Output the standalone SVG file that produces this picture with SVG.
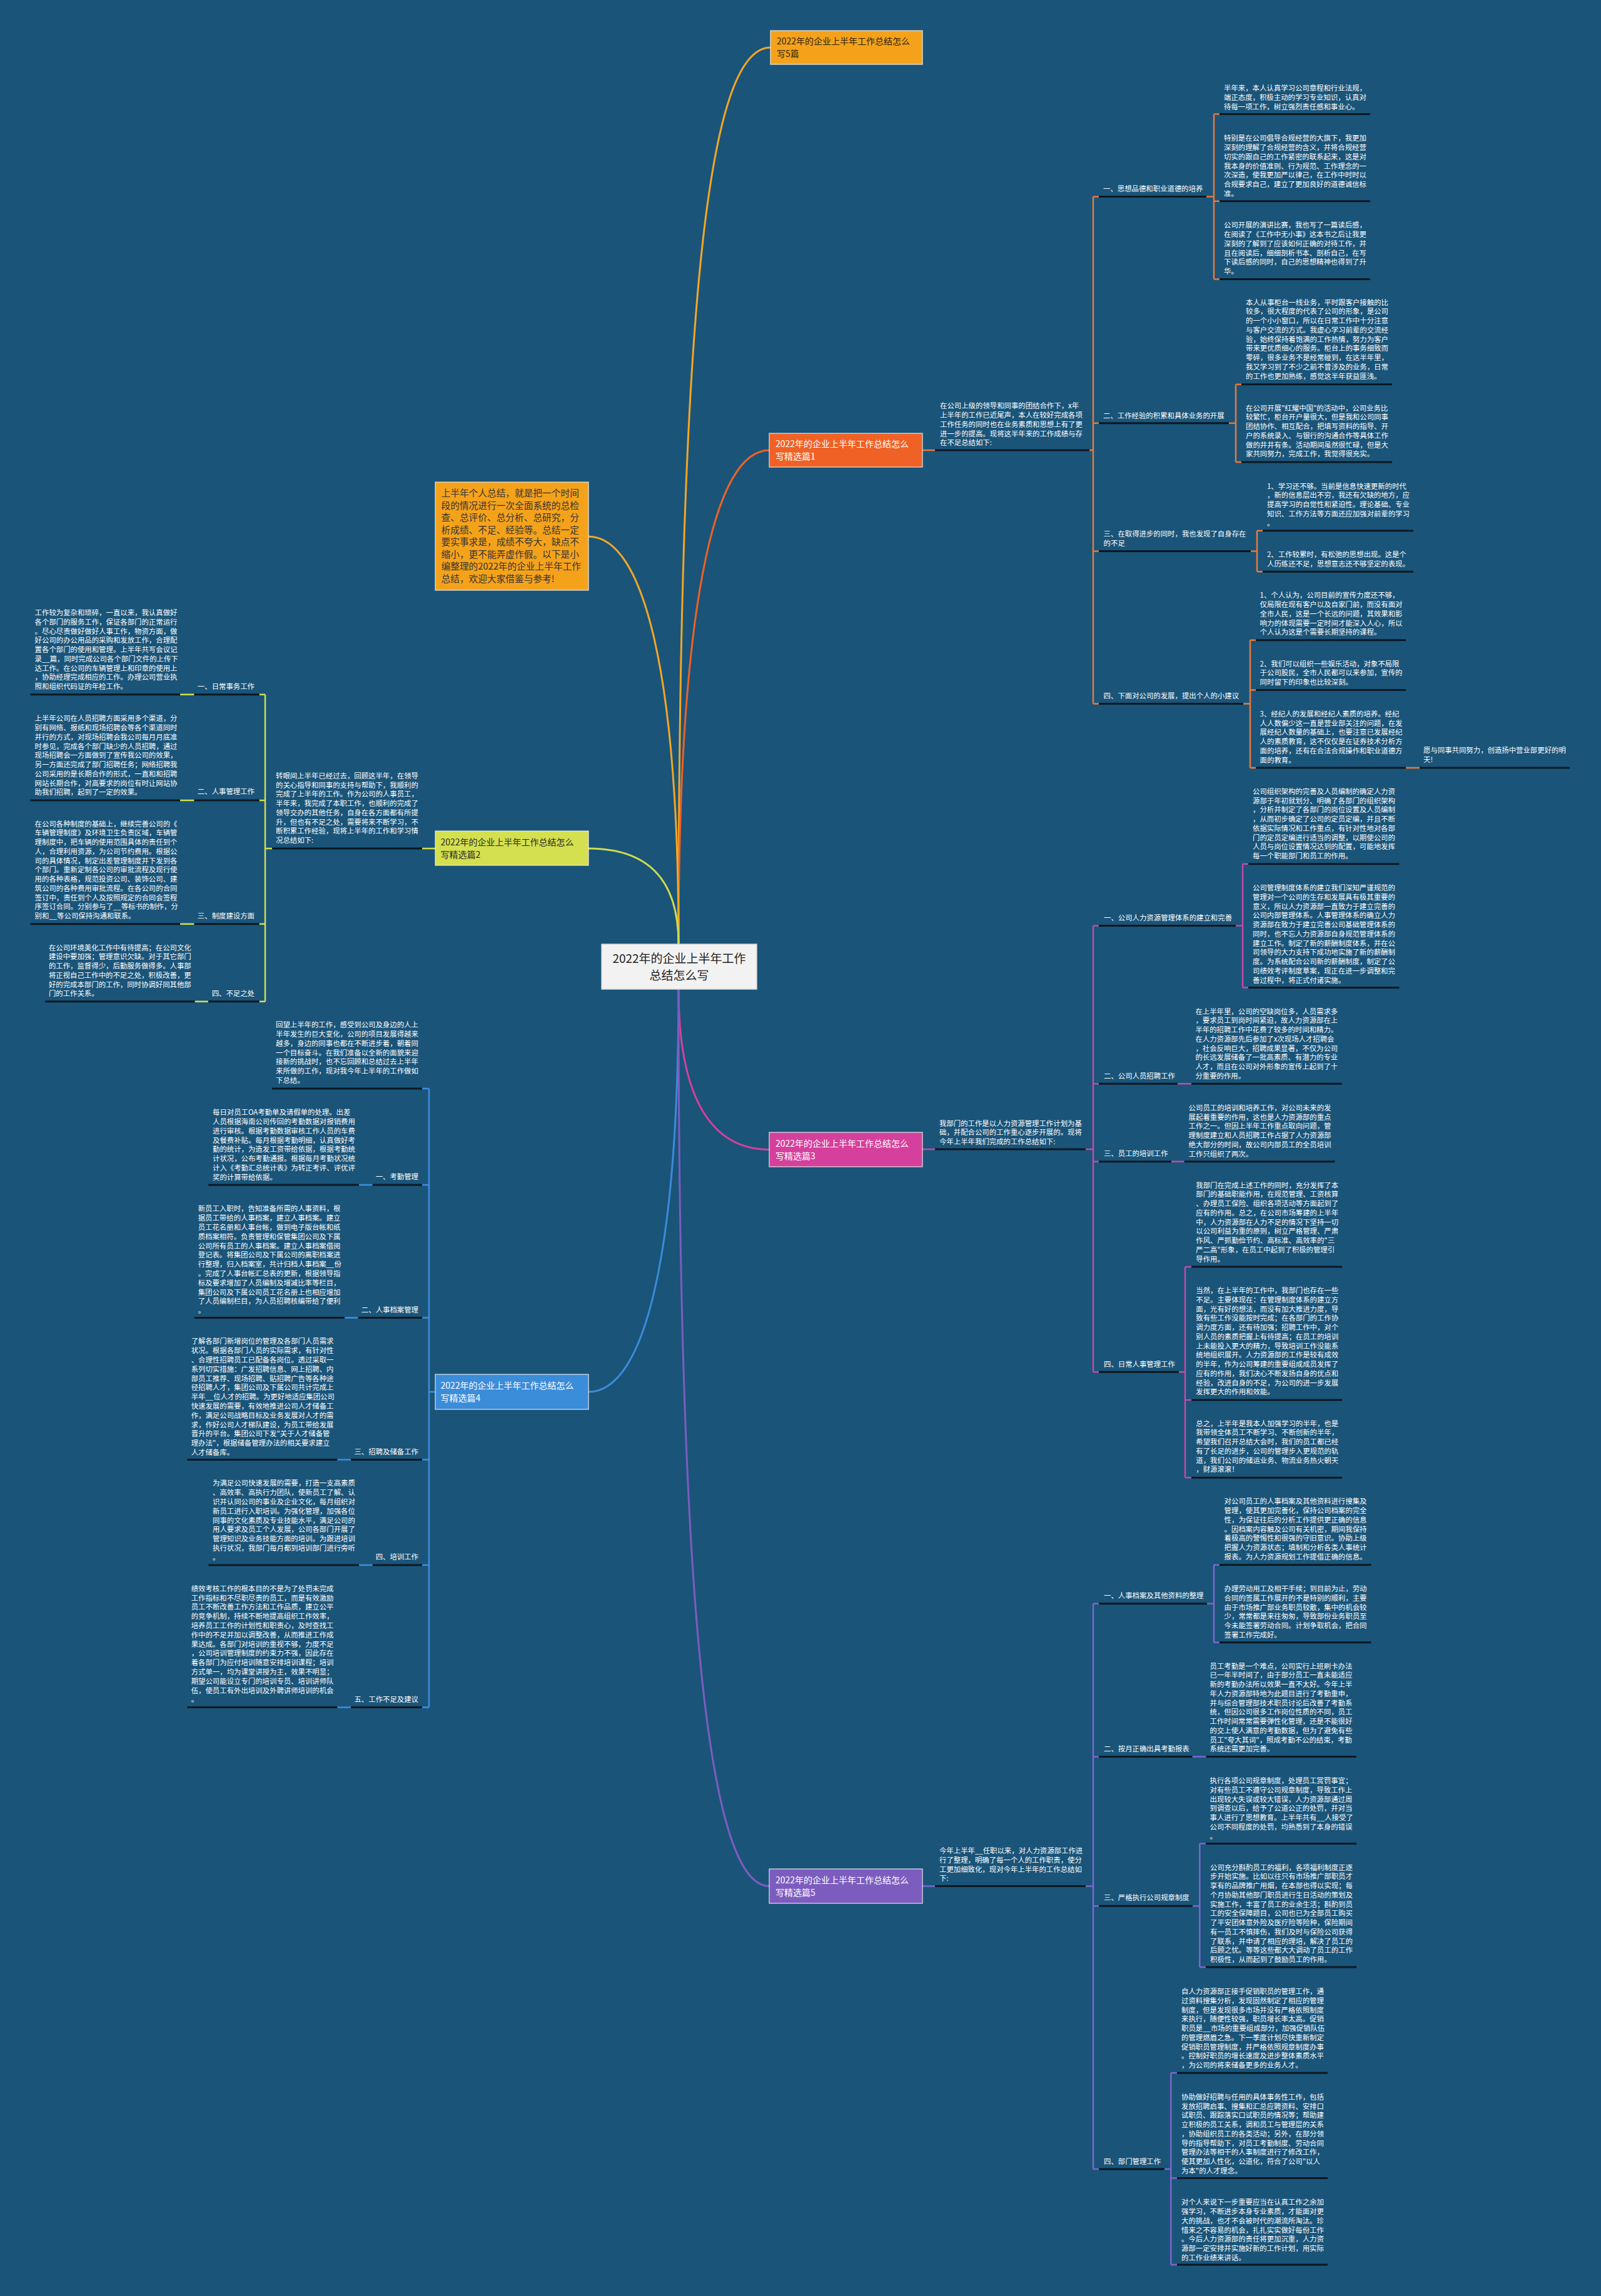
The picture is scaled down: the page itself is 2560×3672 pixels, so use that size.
<svg xmlns="http://www.w3.org/2000/svg" width="2560" height="3672" viewBox="0 0 2560 3672">
<style>
text{font-family:"Noto Sans CJK SC","Noto Sans",sans-serif}
.t{font-size:11.4px;fill:#ffffff}
.ul{stroke:#0c1822;stroke-width:3;fill:none}
.mc{fill:none;stroke-width:3}
.c1{stroke:#e8783c;stroke-width:2.5;fill:none}
.c2{stroke:#d2de4e;stroke-width:2.5;fill:none}
.c3{stroke:#c24aa8;stroke-width:2.5;fill:none}
.c4{stroke:#3d8ee0;stroke-width:2.5;fill:none}
.c5{stroke:#7b68cb;stroke-width:2.5;fill:none}
.box{stroke:#f4f4f4;stroke-opacity:0.7;stroke-width:1.5}
.lt{font-size:14px}
</style>
<rect x="0" y="0" width="2560" height="3672" fill="#1a5479"/>

<g id="connectors">
<path class="mc" stroke="#f5a623" d="M1085,1510 C1085,420 1140,76 1232,76"/>
<path class="mc" stroke="#ef6125" d="M1085,1510 C1085,980 1140,720 1230,720"/>
<path class="mc" stroke="#f5a623" d="M1085,1510 C1085,1080 1030,858 941,858"/>
<path class="mc" stroke="#cfdc4c" d="M1085,1510 C1085,1400 1030,1357 941,1357"/>
<path class="mc" stroke="#d5409c" d="M1085,1582 C1085,1760 1140,1838.5 1230,1838.5"/>
<path class="mc" stroke="#3b8cd9" d="M1085,1582 C1085,2010 1030,2226 941,2226"/>
<path class="mc" stroke="#7d5cbf" d="M1085,1582 C1085,2640 1140,3016.5 1230,3016.5"/>

<path class="c1" d="M1475,720 H1495 M1742,720 H1748 M1748,314.4 V1125.6 M1748,314.4 H1757 M1748,676.8 H1757 M1748,881.5 H1757 M1748,1125.6 H1757 M1929,314.4 H1941 M1941,182.4 V446.4 M1941,182.4 H1950 M1941,321.7 H1950 M1941,446.4 H1950 M1965,676.8 H1976 M1976,614.8 V738.9 M1976,614.8 H1985 M1976,738.9 H1985 M2000,881.5 H2010 M2010,848.8 V914.2 M2010,848.8 H2019 M2010,914.2 H2019 M1988,1125.6 H1999 M1999,1023.7 V1227.9 M1999,1023.7 H2008 M1999,1103.6 H2008 M1999,1227.9 H2008 M2248,1227.9 H2270"/>
<path class="ul" d="M1495,720 H1742 M1757,314.4 H1929 M1757,676.8 H1965 M1757,881.5 H2000 M1757,1125.6 H1988 M1950,182.4 H2191 M1950,321.7 H2191 M1950,446.4 H2191 M1985,614.8 H2226 M1985,738.9 H2226 M2019,848.8 H2260 M2019,914.2 H2260 M2008,1023.7 H2248 M2008,1103.6 H2248 M2008,1227.9 H2248 M2270,1227.9 H2510"/>

<path class="c2" d="M696,1357 H675 M435,1357 H424 M424,1110.7 V1601.8 M424,1110.7 H414.6 M424,1279.9 H414.6 M424,1477.7 H414.6 M424,1601.8 H414.6 M310.6,1110.7 H288 M310.6,1279.9 H288 M310.6,1477.7 H288 M333,1601.8 H311.5"/>
<path class="ul" d="M435,1357 H675 M310.6,1110.7 H414.6 M310.6,1279.9 H414.6 M310.6,1477.7 H414.6 M333,1601.8 H414.6 M48.4,1110.7 H288 M48.4,1279.9 H288 M48.4,1477.7 H288 M72.4,1601.8 H311.5"/>

<path class="c4" d="M696,2226 H686 M686,1741 V2730.5 M686,1741 H675 M686,1894.9 H675 M686,2107.6 H675 M686,2334.6 H675 M686,2503 H675 M686,2730.5 H675 M595.7,1894.9 H574 M572.7,2107.6 H551 M561,2334.6 H539.3 M595.7,2503 H574 M561,2730.5 H539.3"/>
<path class="ul" d="M435,1741 H675 M595.7,1894.9 H675 M572.7,2107.6 H675 M561,2334.6 H675 M595.7,2503 H675 M561,2730.5 H675 M333.3,1894.9 H574 M311,2107.6 H551 M299.3,2334.6 H539.3 M333.3,2503 H574 M299.3,2730.5 H539.3"/>

<path class="c3" d="M1475,1838 H1495 M1736,1838 H1748 M1748,1480.5 V2194.3 M1748,1480.5 H1757 M1748,1733.2 H1757 M1748,1857.7 H1757 M1748,2194.3 H1757 M1976,1480.5 H1987 M1987,1381.7 V1579.4 M1987,1381.7 H1996 M1987,1579.4 H1996 M1883,1733.2 H1905 M1873,1857.7 H1893.7 M1885,2194.3 H1895 M1895,2026 V2363.3 M1895,2026 H1905 M1895,2239 H1905 M1895,2363.3 H1905"/>
<path class="ul" d="M1495,1838 H1736 M1757,1480.5 H1976 M1757,1733.2 H1883 M1757,1857.7 H1873 M1757,2194.3 H1885 M1996,1381.7 H2237.5 M1996,1579.4 H2237.5 M1905,1733.2 H2145.7 M1893.7,1857.7 H2134.4 M1905,2026 H2146 M1905,2239 H2146 M1905,2363.3 H2146"/>

<path class="c5" d="M1475,3016.5 H1495 M1736,3016.5 H1748 M1748,2564.7 V3469 M1748,2564.7 H1757 M1748,2809.6 H1757 M1748,3048.3 H1757 M1748,3469 H1757 M1930,2564.7 H1941 M1941,2502.7 V2626.7 M1941,2502.7 H1950 M1941,2626.7 H1950 M1906.5,2809.6 H1928.6 M1907,3048.3 H1918.3 M1918.3,2948.4 V3146 M1918.3,2948.4 H1928 M1918.3,3146 H1928 M1862,3469 H1872.3 M1872.3,3315.2 V3622 M1872.3,3315.2 H1882 M1872.3,3483.6 H1882 M1872.3,3622 H1882"/>
<path class="ul" d="M1495,3016.5 H1736 M1757,2564.7 H1930 M1757,2809.6 H1906.5 M1757,3048.3 H1907 M1757,3469 H1862 M1950,2502.7 H2192.4 M1950,2626.7 H2192.4 M1928.6,2809.6 H2168.8 M1928,2948.4 H2169 M1928,3146 H2169 M1882,3315.2 H2123 M1882,3483.6 H2123 M1882,3622 H2123"/>
</g>

<g id="center">
<rect x="962" y="1510" width="248" height="72" fill="#f2f2f2" stroke="#d8d8d8" stroke-width="1.5"/>
<text x="1086" y="1540" font-size="19" fill="#222" text-anchor="middle">2022年的企业上半年工作</text>
<text x="1086" y="1567" font-size="19" fill="#222" text-anchor="middle">总结怎么写</text>
</g>

<g id="label-5pian">
<rect class="box" x="1232" y="49" width="243" height="54" fill="#f5a21b"/>
<text class="lt" x="1242" y="71" fill="#2e2410">2022年的企业上半年工作总结怎么<tspan x="1242" dy="20">写5篇</tspan></text>
</g>

<g id="intro">
<rect class="box" x="696" y="771" width="245" height="173" fill="#f5a21b"/>
<text x="705.5" y="794" font-size="14.7" fill="#333">
<tspan x="705.5">上半年个人总结，就是把一个时间</tspan>
<tspan x="705.5" dy="19.5">段的情况进行一次全面系统的总检</tspan>
<tspan x="705.5" dy="19.5">查、总评价、总分析、总研究，分</tspan>
<tspan x="705.5" dy="19.5">析成绩、不足、经验等。总结一定</tspan>
<tspan x="705.5" dy="19.5">要实事求是，成绩不夸大，缺点不</tspan>
<tspan x="705.5" dy="19.5">缩小，更不能弄虚作假。以下是小</tspan>
<tspan x="705.5" dy="19.5">编整理的2022年的企业上半年工作</tspan>
<tspan x="705.5" dy="19.5">总结，欢迎大家借鉴与参考!</tspan>
</text>
</g>

<g id="branch1">
<rect class="box" x="1230" y="693" width="245" height="54" fill="#ef6125"/>
<text class="lt" x="1240" y="715" fill="#fff">2022年的企业上半年工作总结怎么<tspan x="1240" dy="20">写精选篇1</tspan></text>
</g>
<g id="b1-desc"><text class="t" x="1503" y="653.3"><tspan x="1503">在公司上级的领导和同事的团结合作下，x年</tspan><tspan x="1503" dy="14.75">上半年的工作已近尾声，本人在较好完成各项</tspan><tspan x="1503" dy="14.75">工作任务的同时也在业务素质和思想上有了更</tspan><tspan x="1503" dy="14.75">进一步的提高。现将这半年来的工作成绩与存</tspan><tspan x="1503" dy="14.75">在不足总结如下:</tspan></text></g>
<g id="b1-1"><text class="t" x="1764" y="306">一、思想品德和职业道德的培养</text></g>
<g id="b1-1a"><text class="t" x="1957" y="145"><tspan x="1957">半年来，本人认真学习公司章程和行业法规，</tspan><tspan x="1957" dy="14.75">端正态度，积极主动的学习专业知识，认真对</tspan><tspan x="1957" dy="14.75">待每一项工作，树立强烈责任感和事业心。</tspan></text></g>
<g id="b1-1b"><text class="t" x="1957" y="225.4"><tspan x="1957">特别是在公司倡导合规经营的大旗下，我更加</tspan><tspan x="1957" dy="14.75">深刻的理解了合规经营的含义，并将合规经营</tspan><tspan x="1957" dy="14.75">切实的跟自己的工作紧密的联系起来，这是对</tspan><tspan x="1957" dy="14.75">我本身的价值准则、行为规范、工作理念的一</tspan><tspan x="1957" dy="14.75">次深造，使我更加严以律己，在工作中时时以</tspan><tspan x="1957" dy="14.75">合规要求自己，建立了更加良好的道德诚信标</tspan><tspan x="1957" dy="14.75">准。</tspan></text></g>
<g id="b1-1c"><text class="t" x="1957" y="364.3"><tspan x="1957">公司开展的演讲比赛，我也写了一篇读后感，</tspan><tspan x="1957" dy="14.75">在阅读了《工作中无小事》这本书之后让我更</tspan><tspan x="1957" dy="14.75">深刻的了解到了应该如何正确的对待工作，并</tspan><tspan x="1957" dy="14.75">且在阅读后，细细剖析书本、剖析自己，在写</tspan><tspan x="1957" dy="14.75">下读后感的同时，自己的思想精神也得到了升</tspan><tspan x="1957" dy="14.75">华。</tspan></text></g>
<g id="b1-2"><text class="t" x="1764" y="668.6">二、工作经验的积累和具体业务的开展</text></g>
<g id="b1-2a"><text class="t" x="1992" y="487.6"><tspan x="1992">本人从事柜台一线业务，平时跟客户接触的比</tspan><tspan x="1992" dy="14.75">较多，很大程度的代表了公司的形象，是公司</tspan><tspan x="1992" dy="14.75">的一个小小窗口，所以在日常工作中十分注意</tspan><tspan x="1992" dy="14.75">与客户交流的方式。我虚心学习前辈的交流经</tspan><tspan x="1992" dy="14.75">验，始终保持着饱满的工作热情，努力为客户</tspan><tspan x="1992" dy="14.75">带来更优质细心的服务。柜台上的事务细致而</tspan><tspan x="1992" dy="14.75">零碎，很多业务不是经常碰到，在这半年里，</tspan><tspan x="1992" dy="14.75">我又学习到了不少之前不曾涉及的业务，日常</tspan><tspan x="1992" dy="14.75">的工作也更加熟练，感觉这半年获益匪浅。</tspan></text></g>
<g id="b1-2b"><text class="t" x="1992" y="656.7"><tspan x="1992">在公司开展"红耀中国"的活动中，公司业务比</tspan><tspan x="1992" dy="14.75">较繁忙，柜台开户量很大，但是我和公司同事</tspan><tspan x="1992" dy="14.75">团结协作、相互配合，把填写资料的指导、开</tspan><tspan x="1992" dy="14.75">户的系统录入、与银行的沟通合作等具体工作</tspan><tspan x="1992" dy="14.75">做的井井有条。活动期间虽然很忙碌，但是大</tspan><tspan x="1992" dy="14.75">家共同努力，完成工作，我觉得很充实。</tspan></text></g>
<g id="b1-3"><text class="t" x="1764.6" y="858.3"><tspan x="1764.6">三、在取得进步的同时，我也发现了自身存在</tspan><tspan x="1764.6" dy="14.4">的不足</tspan></text></g>
<g id="b1-3a"><text class="t" x="2026" y="781.5"><tspan x="2026">1、学习还不够。当前是信息快速更新的时代</tspan><tspan x="2026" dy="14.75">，新的信息层出不穷，我还有欠缺的地方，应</tspan><tspan x="2026" dy="14.75">提高学习的自觉性和紧迫性。理论基础、专业</tspan><tspan x="2026" dy="14.75">知识、工作方法等方面还应加强对前辈的学习</tspan><tspan x="2026" dy="14.75">。</tspan></text></g>
<g id="b1-3b"><text class="t" x="2026" y="891"><tspan x="2026">2、工作较累时，有松弛的思想出现。这是个</tspan><tspan x="2026" dy="14.75">人历练还不足，思想意志还不够坚定的表现。</tspan></text></g>
<g id="b1-4"><text class="t" x="1764.6" y="1117.2">四、下面对公司的发展，提出个人的小建议</text></g>
<g id="b1-4a"><text class="t" x="2014.6" y="956.4"><tspan x="2014.6">1、个人认为，公司目前的宣传力度还不够，</tspan><tspan x="2014.6" dy="14.75">仅局限在现有客户以及自家门前，而没有面对</tspan><tspan x="2014.6" dy="14.75">全市人民，这是一个长远的问题，其效果和影</tspan><tspan x="2014.6" dy="14.75">响力的体现需要一定时间才能深入人心，所以</tspan><tspan x="2014.6" dy="14.75">个人认为这是个需要长期坚持的课程。</tspan></text></g>
<g id="b1-4b"><text class="t" x="2014.6" y="1065.6"><tspan x="2014.6">2、我们可以组织一些娱乐活动，对象不局限</tspan><tspan x="2014.6" dy="14.75">于公司股民，全市人民都可以来参加，宣传的</tspan><tspan x="2014.6" dy="14.75">同时留下的印象也比较深刻。</tspan></text></g>
<g id="b1-4c"><text class="t" x="2014.6" y="1145.8"><tspan x="2014.6">3、经纪人的发展和经纪人素质的培养。经纪</tspan><tspan x="2014.6" dy="14.75">人人数偏少这一直是营业部关注的问题，在发</tspan><tspan x="2014.6" dy="14.75">展经纪人数量的基础上，也要注意已发展经纪</tspan><tspan x="2014.6" dy="14.75">人的素质教育，这不仅仅是在证券技术分析方</tspan><tspan x="2014.6" dy="14.75">面的培养，还有在合法合规操作和职业道德方</tspan><tspan x="2014.6" dy="14.75">面的教育。</tspan></text></g>
<g id="b1-4d"><text class="t" x="2276" y="1204.3"><tspan x="2276">愿与同事共同努力，创造扬中营业部更好的明</tspan><tspan x="2276" dy="14.75">天!</tspan></text></g>

<g id="branch2">
<rect class="box" x="696" y="1329" width="245" height="55" fill="#d4e04f"/>
<text class="lt" x="704.5" y="1351.5" fill="#2a2a2a">2022年的企业上半年工作总结怎么<tspan x="704.5" dy="20.5">写精选篇2</tspan></text>
</g>
<g id="b2-desc"><text class="t" x="441" y="1244.8"><tspan x="441">转眼间上半年已经过去，回顾这半年，在领导</tspan><tspan x="441" dy="14.75">的关心指导和同事的支持与帮助下，我顺利的</tspan><tspan x="441" dy="14.75">完成了上半年的工作。作为公司的人事员工，</tspan><tspan x="441" dy="14.75">半年来，我完成了本职工作，也顺利的完成了</tspan><tspan x="441" dy="14.75">领导交办的其他任务，自身在各方面都有所提</tspan><tspan x="441" dy="14.75">升，但也有不足之处，需要将来不断学习，不</tspan><tspan x="441" dy="14.75">断积累工作经验，现将上半年的工作和学习情</tspan><tspan x="441" dy="14.75">况总结如下:</tspan></text></g>
<g id="b2-1"><text class="t" x="407" y="1102" text-anchor="end">一、日常事务工作</text></g>
<g id="b2-1a"><text class="t" x="55.6" y="984"><tspan x="55.6">工作较为复杂和琐碎，一直以来，我认真做好</tspan><tspan x="55.6" dy="14.75">各个部门的服务工作，保证各部门的正常运行</tspan><tspan x="55.6" dy="14.75">。尽心尽责做好做好人事工作，物资方面，做</tspan><tspan x="55.6" dy="14.75">好公司的办公用品的采购和发放工作，合理配</tspan><tspan x="55.6" dy="14.75">置各个部门的使用和管理。上半年共写会议记</tspan><tspan x="55.6" dy="14.75">录__篇，同时完成公司各个部门文件的上传下</tspan><tspan x="55.6" dy="14.75">达工作。在公司的车辆管理上和印章的使用上</tspan><tspan x="55.6" dy="14.75">，协助经理完成相应的工作。办理公司营业执</tspan><tspan x="55.6" dy="14.75">照和组织代码证的年检工作。</tspan></text></g>
<g id="b2-2"><text class="t" x="407" y="1270.4" text-anchor="end">二、人事管理工作</text></g>
<g id="b2-2a"><text class="t" x="55.6" y="1153.4"><tspan x="55.6">上半年公司在人员招聘方面采用多个渠道，分</tspan><tspan x="55.6" dy="14.75">别有网络、报纸和现场招聘会等各个渠道同时</tspan><tspan x="55.6" dy="14.75">并行的方式，对现场招聘会我公司每月月底准</tspan><tspan x="55.6" dy="14.75">时参见，完成各个部门缺少的人员招聘，通过</tspan><tspan x="55.6" dy="14.75">现场招聘会一方面做到了宣传我公司的效果，</tspan><tspan x="55.6" dy="14.75">另一方面还完成了部门招聘任务；网络招聘我</tspan><tspan x="55.6" dy="14.75">公司采用的是长期合作的形式，一直和和招聘</tspan><tspan x="55.6" dy="14.75">网站长期合作，对高要求的岗位有时让网站协</tspan><tspan x="55.6" dy="14.75">助我们招聘，起到了一定的效果。</tspan></text></g>
<g id="b2-3"><text class="t" x="407" y="1469" text-anchor="end">三、制度建设方面</text></g>
<g id="b2-3a"><text class="t" x="55.6" y="1321.7"><tspan x="55.6">在公司各种制度的基础上，继续完善公司的《</tspan><tspan x="55.6" dy="14.75">车辆管理制度》及环境卫生负责区域，车辆管</tspan><tspan x="55.6" dy="14.75">理制度中，把车辆的使用范围具体的责任到个</tspan><tspan x="55.6" dy="14.75">人，合理利用资源，为公司节约费用。根据公</tspan><tspan x="55.6" dy="14.75">司的具体情况，制定出差管理制度并下发到各</tspan><tspan x="55.6" dy="14.75">个部门。重新定制各公司的审批流程及现行使</tspan><tspan x="55.6" dy="14.75">用的各种表格，规范投资公司、装饰公司、建</tspan><tspan x="55.6" dy="14.75">筑公司的各种费用审批流程。在各公司的合同</tspan><tspan x="55.6" dy="14.75">签订中，责任到个人及按照规定的合同会签程</tspan><tspan x="55.6" dy="14.75">序签订合同。分别参与了__等标书的制作，分</tspan><tspan x="55.6" dy="14.75">别和__等公司保持沟通和联系。</tspan></text></g>
<g id="b2-4"><text class="t" x="407" y="1593.2" text-anchor="end">四、不足之处</text></g>
<g id="b2-4a"><text class="t" x="77.9" y="1519.6"><tspan x="77.9">在公司环境美化工作中有待提高；在公司文化</tspan><tspan x="77.9" dy="14.75">建设中要加强；管理意识欠缺。对于其它部门</tspan><tspan x="77.9" dy="14.75">的工作，监督得少，后勤服务做得多。人事部</tspan><tspan x="77.9" dy="14.75">将正视自己工作中的不足之处，积极改善，更</tspan><tspan x="77.9" dy="14.75">好的完成本部门的工作，同时协调好同其他部</tspan><tspan x="77.9" dy="14.75">门的工作关系。</tspan></text></g>

<g id="branch4">
<rect class="box" x="696" y="2198" width="245" height="56" fill="#3b8cd9"/>
<text class="lt" x="704.5" y="2221" fill="#fff">2022年的企业上半年工作总结怎么<tspan x="704.5" dy="20">写精选篇4</tspan></text>
</g>
<g id="b4-desc"><text class="t" x="441" y="1643.2"><tspan x="441">回望上半年的工作，感受到公司及身边的人上</tspan><tspan x="441" dy="14.8">半年发生的巨大变化，公司的项目发展得越来</tspan><tspan x="441" dy="14.8">越多，身边的同事也都在不断进步着，朝着同</tspan><tspan x="441" dy="14.8">一个目标奋斗。在我们准备以全新的面貌来迎</tspan><tspan x="441" dy="14.8">接新的挑战时，也不忘回顾和总结过去上半年</tspan><tspan x="441" dy="14.8">来所做的工作，现对我今年上半年的工作做如</tspan><tspan x="441" dy="14.8">下总结。</tspan></text></g>
<g id="b4-1"><text class="t" x="669" y="1885.9" text-anchor="end">一、考勤管理</text></g>
<g id="b4-1a"><text class="t" x="340" y="1783.1"><tspan x="340">每日对员工OA考勤单及请假单的处理。出差</tspan><tspan x="340" dy="14.8">人员根据海南公司传回的考勤数据对报销费用</tspan><tspan x="340" dy="14.8">进行审核。根据考勤数据审核工作人员的车费</tspan><tspan x="340" dy="14.8">及餐费补贴。每月根据考勤明细，认真做好考</tspan><tspan x="340" dy="14.8">勤的统计，为造发工资带给依据，根据考勤统</tspan><tspan x="340" dy="14.8">计状况，公布考勤通报。根据每月考勤状况统</tspan><tspan x="340" dy="14.8">计入《考勤汇总统计表》为转正考评、评优评</tspan><tspan x="340" dy="14.8">奖的计算带给依据。</tspan></text></g>
<g id="b4-2"><text class="t" x="669" y="2098.7" text-anchor="end">二、人事档案管理</text></g>
<g id="b4-2a"><text class="t" x="316.7" y="1937.4"><tspan x="316.7">新员工入职时，告知准备所需的人事资料，根</tspan><tspan x="316.7" dy="14.8">据员工带给的人事档案，建立人事档案。建立</tspan><tspan x="316.7" dy="14.8">员工花名册和人事台帐，做到电子版台帐和纸</tspan><tspan x="316.7" dy="14.8">质档案相符。负责管理和保管集团公司及下属</tspan><tspan x="316.7" dy="14.8">公司所有员工的人事档案。建立人事档案借阅</tspan><tspan x="316.7" dy="14.8">登记表。将集团公司及下属公司的离职档案进</tspan><tspan x="316.7" dy="14.8">行整理，归入档案室，共计归档人事档案__份</tspan><tspan x="316.7" dy="14.8">。完成了人事台帐汇总表的更新，根据领导指</tspan><tspan x="316.7" dy="14.8">标及要求增加了人员编制及增减比率等栏目，</tspan><tspan x="316.7" dy="14.8">集团公司及下属公司员工花名册上也相应增加</tspan><tspan x="316.7" dy="14.8">了人员编制栏目，为人员招聘核编带给了便利</tspan><tspan x="316.7" dy="14.8">。</tspan></text></g>
<g id="b4-3"><text class="t" x="669" y="2325.7" text-anchor="end">三、招聘及储备工作</text></g>
<g id="b4-3a"><text class="t" x="305.7" y="2149.3"><tspan x="305.7">了解各部门新增岗位的管理及各部门人员需求</tspan><tspan x="305.7" dy="14.8">状况。根据各部门人员的实际需求，有针对性</tspan><tspan x="305.7" dy="14.8">、合理性招聘员工已配备各岗位。透过采取一</tspan><tspan x="305.7" dy="14.8">系列切实措施：广发招聘信息、网上招聘、内</tspan><tspan x="305.7" dy="14.8">部员工推荐、现场招聘、贴招聘广告等各种途</tspan><tspan x="305.7" dy="14.8">径招聘人才，集团公司及下属公司共计完成上</tspan><tspan x="305.7" dy="14.8">半年__位人才的招聘。为更好地适应集团公司</tspan><tspan x="305.7" dy="14.8">快速发展的需要，有效地推进公司人才储备工</tspan><tspan x="305.7" dy="14.8">作，满足公司战略目标及业务发展对人才的需</tspan><tspan x="305.7" dy="14.8">求，作好公司人才梯队建设，为员工带给发展</tspan><tspan x="305.7" dy="14.8">晋升的平台。集团公司下发"关于人才储备管</tspan><tspan x="305.7" dy="14.8">理办法"，根据储备管理办法的相关要求建立</tspan><tspan x="305.7" dy="14.8">人才储备库。</tspan></text></g>
<g id="b4-4"><text class="t" x="669" y="2494" text-anchor="end">四、培训工作</text></g>
<g id="b4-4a"><text class="t" x="340" y="2376.4"><tspan x="340">为满足公司快速发展的需要，打造一支高素质</tspan><tspan x="340" dy="14.8">、高效率、高执行力团队，使新员工了解、认</tspan><tspan x="340" dy="14.8">识并认同公司的事业及企业文化，每月组织对</tspan><tspan x="340" dy="14.8">新员工进行入职培训。为强化管理，加强各位</tspan><tspan x="340" dy="14.8">同事的文化素质及专业技能水平，满足公司的</tspan><tspan x="340" dy="14.8">用人要求及员工个人发展，公司各部门开展了</tspan><tspan x="340" dy="14.8">管理知识及业务技能方面的培训。为跟进培训</tspan><tspan x="340" dy="14.8">执行状况，我部门每月都到培训部门进行旁听</tspan><tspan x="340" dy="14.8">。</tspan></text></g>
<g id="b4-5"><text class="t" x="669" y="2721.5" text-anchor="end">五、工作不足及建议</text></g>
<g id="b4-5a"><text class="t" x="305.7" y="2544.7"><tspan x="305.7">绩效考核工作的根本目的不是为了处罚未完成</tspan><tspan x="305.7" dy="14.8">工作指标和不尽职尽责的员工，而是有效激励</tspan><tspan x="305.7" dy="14.8">员工不断改善工作方法和工作品质，建立公平</tspan><tspan x="305.7" dy="14.8">的竞争机制，持续不断地提高组织工作效率，</tspan><tspan x="305.7" dy="14.8">培养员工工作的计划性和职责心，及时查找工</tspan><tspan x="305.7" dy="14.8">作中的不足并加以调整改善，从而推进工作成</tspan><tspan x="305.7" dy="14.8">果达成。各部门对培训的重视不够，力度不足</tspan><tspan x="305.7" dy="14.8">，公司培训管理制度的约束力不强，因此存在</tspan><tspan x="305.7" dy="14.8">着各部门为应付培训随意安排培训课程；培训</tspan><tspan x="305.7" dy="14.8">方式单一，均为课堂讲授为主，效果不明显；</tspan><tspan x="305.7" dy="14.8">期望公司能设立专门的培训专员、培训讲师队</tspan><tspan x="305.7" dy="14.8">伍，使员工有外出培训及外聘讲师培训的机会</tspan><tspan x="305.7" dy="14.8">。</tspan></text></g>

<g id="branch3">
<rect class="box" x="1230" y="1811" width="245" height="55" fill="#d5409c"/>
<text class="lt" x="1240" y="1833.5" fill="#fff">2022年的企业上半年工作总结怎么<tspan x="1240" dy="20">写精选篇3</tspan></text>
</g>
<g id="b3-desc"><text class="t" x="1502" y="1800.5"><tspan x="1502">我部门的工作是以人力资源管理工作计划为基</tspan><tspan x="1502" dy="14.75">础，并配合公司的工作重心逐步开展的。现将</tspan><tspan x="1502" dy="14.75">今年上半年我们完成的工作总结如下:</tspan></text></g>
<g id="b3-1"><text class="t" x="1765" y="1471.9">一、公司人力资源管理体系的建立和完善</text></g>
<g id="b3-1a"><text class="t" x="2003" y="1269.8"><tspan x="2003">公司组织架构的完善及人员编制的确定人力资</tspan><tspan x="2003" dy="14.75">源部于年初就划分、明确了各部门的组织架构</tspan><tspan x="2003" dy="14.75">，分析并制定了各部门的岗位设置及人员编制</tspan><tspan x="2003" dy="14.75">，从而初步确定了公司的定员定编，并且不断</tspan><tspan x="2003" dy="14.75">依据实际情况和工作重点，有针对性地对各部</tspan><tspan x="2003" dy="14.75">门的定员定编进行适当的调整，以期使公司的</tspan><tspan x="2003" dy="14.75">人员与岗位设置情况达到的配置，可能地发挥</tspan><tspan x="2003" dy="14.75">每一个职能部门和员工的作用。</tspan></text></g>
<g id="b3-1b"><text class="t" x="2003" y="1424"><tspan x="2003">公司管理制度体系的建立我们深知严谨规范的</tspan><tspan x="2003" dy="14.75">管理对一个公司的生存和发展具有极其重要的</tspan><tspan x="2003" dy="14.75">意义，所以人力资源部一直致力于建立完善的</tspan><tspan x="2003" dy="14.75">公司内部管理体系。人事管理体系的确立人力</tspan><tspan x="2003" dy="14.75">资源部在致力于建立完善公司基础管理体系的</tspan><tspan x="2003" dy="14.75">同时，也不忘人力资源部自身规范管理体系的</tspan><tspan x="2003" dy="14.75">建立工作。制定了新的薪酬制度体系，并在公</tspan><tspan x="2003" dy="14.75">司领导的大力支持下成功地实施了新的薪酬制</tspan><tspan x="2003" dy="14.75">度。为系统配合公司新的薪酬制度，制定了公</tspan><tspan x="2003" dy="14.75">司绩效考评制度草案，现正在进一步调整和完</tspan><tspan x="2003" dy="14.75">善过程中，将正式付诸实施。</tspan></text></g>
<g id="b3-2"><text class="t" x="1765" y="1724.5">二、公司人员招聘工作</text></g>
<g id="b3-2a"><text class="t" x="1911.4" y="1621.7"><tspan x="1911.4">在上半年里，公司的空缺岗位多，人员需求多</tspan><tspan x="1911.4" dy="14.75">，要求员工到岗时间紧迫，故人力资源部在上</tspan><tspan x="1911.4" dy="14.75">半年的招聘工作中花费了较多的时间和精力。</tspan><tspan x="1911.4" dy="14.75">在人力资源部先后参加了x次现场人才招聘会</tspan><tspan x="1911.4" dy="14.75">，社会反响巨大，招聘成果显著，不仅为公司</tspan><tspan x="1911.4" dy="14.75">的长远发展储备了一批高素质、有潜力的专业</tspan><tspan x="1911.4" dy="14.75">人才，而且在公司对外形象的宣传上起到了十</tspan><tspan x="1911.4" dy="14.75">分重要的作用。</tspan></text></g>
<g id="b3-3"><text class="t" x="1765" y="1849">三、员工的培训工作</text></g>
<g id="b3-3a"><text class="t" x="1900.6" y="1775.9"><tspan x="1900.6">公司员工的培训和培养工作，对公司未来的发</tspan><tspan x="1900.6" dy="14.75">展起着重要的作用，这也是人力资源部的重点</tspan><tspan x="1900.6" dy="14.75">工作之一。但因上半年工作重点取向问题，管</tspan><tspan x="1900.6" dy="14.75">理制度建立和人员招聘工作占据了人力资源部</tspan><tspan x="1900.6" dy="14.75">绝大部分的时间，故公司内部员工的全员培训</tspan><tspan x="1900.6" dy="14.75">工作只组织了两次。</tspan></text></g>
<g id="b3-4"><text class="t" x="1765" y="2185.7">四、日常人事管理工作</text></g>
<g id="b3-4a"><text class="t" x="1912.3" y="1899.7"><tspan x="1912.3">我部门在完成上述工作的同时，充分发挥了本</tspan><tspan x="1912.3" dy="14.75">部门的基础职能作用，在规范管理、工资核算</tspan><tspan x="1912.3" dy="14.75">、办理员工保险、组织各项活动等方面起到了</tspan><tspan x="1912.3" dy="14.75">应有的作用。总之，在公司市场筹建的上半年</tspan><tspan x="1912.3" dy="14.75">中，人力资源部在人力不足的情况下坚持一切</tspan><tspan x="1912.3" dy="14.75">以公司利益为重的原则，树立严格管理、严肃</tspan><tspan x="1912.3" dy="14.75">作风、严抓勤俭节约、高标准、高效率的"三</tspan><tspan x="1912.3" dy="14.75">严二高"形象，在员工中起到了积极的管理引</tspan><tspan x="1912.3" dy="14.75">导作用。</tspan></text></g>
<g id="b3-4b"><text class="t" x="1912.3" y="2068"><tspan x="1912.3">当然，在上半年的工作中，我部门也存在一些</tspan><tspan x="1912.3" dy="14.75">不足。主要体现在：在管理制度体系的建立方</tspan><tspan x="1912.3" dy="14.75">面，光有好的想法，而没有加大推进力度，导</tspan><tspan x="1912.3" dy="14.75">致有些工作没能按时完成；在各部门的工作协</tspan><tspan x="1912.3" dy="14.75">调力度方面，还有待加强；招聘工作中，对个</tspan><tspan x="1912.3" dy="14.75">别人员的素质把握上有待提高；在员工的培训</tspan><tspan x="1912.3" dy="14.75">上未能投入更大的精力，导致培训工作没能系</tspan><tspan x="1912.3" dy="14.75">统地组织展开。人力资源部的工作是较有成效</tspan><tspan x="1912.3" dy="14.75">的半年，作为公司筹建的重要组成成员发挥了</tspan><tspan x="1912.3" dy="14.75">应有的作用，我们决心不断发扬自身的优点和</tspan><tspan x="1912.3" dy="14.75">经验，改进自身的不足，为公司的进一步发展</tspan><tspan x="1912.3" dy="14.75">发挥更大的作用和效能。</tspan></text></g>
<g id="b3-4c"><text class="t" x="1912.3" y="2280.7"><tspan x="1912.3">总之，上半年是我本人加强学习的半年，也是</tspan><tspan x="1912.3" dy="14.75">我带领全体员工不断学习、不断创新的半年，</tspan><tspan x="1912.3" dy="14.75">希望我们召开总结大会时，我们的员工都已经</tspan><tspan x="1912.3" dy="14.75">有了长足的进步，公司的管理步入更规范的轨</tspan><tspan x="1912.3" dy="14.75">道，我们公司的储运业务、物流业务热火朝天</tspan><tspan x="1912.3" dy="14.75">，财源滚滚！</tspan></text></g>

<g id="branch5">
<rect class="box" x="1230" y="2989" width="245" height="55" fill="#7d5cbf"/>
<text class="lt" x="1240" y="3011.5" fill="#fff">2022年的企业上半年工作总结怎么<tspan x="1240" dy="20">写精选篇5</tspan></text>
</g>
<g id="b5-desc"><text class="t" x="1502" y="2964.2"><tspan x="1502">今年上半年__任职以来，对人力资源部工作进</tspan><tspan x="1502" dy="14.75">行了整理，明确了每一个人的工作职责，使分</tspan><tspan x="1502" dy="14.75">工更加细致化，现对今年上半年的工作总结如</tspan><tspan x="1502" dy="14.75">下:</tspan></text></g>
<g id="b5-1"><text class="t" x="1765" y="2556">一、人事档案及其他资料的整理</text></g>
<g id="b5-1a"><text class="t" x="1957.6" y="2405.4"><tspan x="1957.6">对公司员工的人事档案及其他资料进行搜集及</tspan><tspan x="1957.6" dy="14.75">管理，使其更加完善化，保持公司档案的完全</tspan><tspan x="1957.6" dy="14.75">性，为保证往后的分析工作提供更正确的信息</tspan><tspan x="1957.6" dy="14.75">。因档案内容触及公司有关机密，期间我保持</tspan><tspan x="1957.6" dy="14.75">着极高的警惕性和很强的守旧意识。协助上级</tspan><tspan x="1957.6" dy="14.75">把握人力资源状态；填制和分析各类人事统计</tspan><tspan x="1957.6" dy="14.75">报表。为人力资源规划工作提借正确的信息。</tspan></text></g>
<g id="b5-1b"><text class="t" x="1957.6" y="2545"><tspan x="1957.6">办理劳动用工及相干手续；到目前为止，劳动</tspan><tspan x="1957.6" dy="14.75">合同的签属工作展开的不是特别的顺利，主要</tspan><tspan x="1957.6" dy="14.75">由于市场推广部业务职员较散，集中的机会较</tspan><tspan x="1957.6" dy="14.75">少，常常都是来往匆匆，导致部份业务职员至</tspan><tspan x="1957.6" dy="14.75">今未能签署劳动合同。计划争取机会，把合同</tspan><tspan x="1957.6" dy="14.75">签署工作完成好。</tspan></text></g>
<g id="b5-2"><text class="t" x="1765" y="2801">二、按月正确出具考勤报表</text></g>
<g id="b5-2a"><text class="t" x="1934.5" y="2668.7"><tspan x="1934.5">员工考勤是一个难点，公司实行上班刷卡办法</tspan><tspan x="1934.5" dy="14.75">已一年半时间了，由于部分员工一直未能适应</tspan><tspan x="1934.5" dy="14.75">新的考勤办法所以效果一直不太好。今年上半</tspan><tspan x="1934.5" dy="14.75">年人力资源部特地为此题目进行了考勤重申，</tspan><tspan x="1934.5" dy="14.75">并与综合管理部技术职员讨论后改善了考勤系</tspan><tspan x="1934.5" dy="14.75">统，但因公司很多工作岗位性质的不同，员工</tspan><tspan x="1934.5" dy="14.75">工作时间常常需要弹性化管理，还是不能很好</tspan><tspan x="1934.5" dy="14.75">的交上使人满意的考勤数据，但为了避免有些</tspan><tspan x="1934.5" dy="14.75">员工"夸大其词"，照成考勤不公的结束，考勤</tspan><tspan x="1934.5" dy="14.75">系统还需更加完善。</tspan></text></g>
<g id="b5-3"><text class="t" x="1765" y="3039.4">三、严格执行公司规章制度</text></g>
<g id="b5-3a"><text class="t" x="1934.5" y="2852"><tspan x="1934.5">执行各项公司规章制度，处理员工赏罚事宜；</tspan><tspan x="1934.5" dy="14.75">对有些员工不遵守公司规章制度，导致工作上</tspan><tspan x="1934.5" dy="14.75">出现较大失误或较大错误，人力资源部通过周</tspan><tspan x="1934.5" dy="14.75">到调查以后，给予了公道公正的处罚，并对当</tspan><tspan x="1934.5" dy="14.75">事人进行了思想教育。上半年共有__人接受了</tspan><tspan x="1934.5" dy="14.75">公司不同程度的处罚，均熟悉到了本身的错误</tspan><tspan x="1934.5" dy="14.75">。</tspan></text></g>
<g id="b5-3b"><text class="t" x="1935" y="2990.7"><tspan x="1935">公司充分斟酌员工的福利，各项福利制度正逐</tspan><tspan x="1935" dy="14.75">步开始实施。比如以往只有市场推广部职员才</tspan><tspan x="1935" dy="14.75">享有的品牌推广用烟，在本部也得以实现；每</tspan><tspan x="1935" dy="14.75">个月协助其他部门职员进行生日活动的策划及</tspan><tspan x="1935" dy="14.75">实施工作，丰富了员工的业余生活；斟酌到员</tspan><tspan x="1935" dy="14.75">工的安全保障题目，公司也已为全部员工购买</tspan><tspan x="1935" dy="14.75">了平安团体意外险及医疗险等险种，保险期间</tspan><tspan x="1935" dy="14.75">有一员工不慎摔伤，我们及时与保险公司获得</tspan><tspan x="1935" dy="14.75">了联系，并申请了相应的理培，解决了员工的</tspan><tspan x="1935" dy="14.75">后顾之忧。等等这些都大大调动了员工的工作</tspan><tspan x="1935" dy="14.75">积极性，从而起到了鼓励员工的作用。</tspan></text></g>
<g id="b5-4"><text class="t" x="1765" y="3460.6">四、部门管理工作</text></g>
<g id="b5-4a"><text class="t" x="1889" y="3189"><tspan x="1889">自人力资源部正接手促销职员的管理工作，通</tspan><tspan x="1889" dy="14.75">过资料搜集分析，发现固然制定了相应的管理</tspan><tspan x="1889" dy="14.75">制度，但是发现很多市场并没有严格依照制度</tspan><tspan x="1889" dy="14.75">来执行，随便性较强，职员增长率太高。促销</tspan><tspan x="1889" dy="14.75">职员是__市场的重要组成部分，加强促销队伍</tspan><tspan x="1889" dy="14.75">的管理燃眉之急。下一季度计划尽快重新制定</tspan><tspan x="1889" dy="14.75">促销职员管理制度，并严格依照规章制度办事</tspan><tspan x="1889" dy="14.75">。控制好职员的增长速度及进步整体素质水平</tspan><tspan x="1889" dy="14.75">，为公司的将来储备更多的业务人才。</tspan></text></g>
<g id="b5-4b"><text class="t" x="1889" y="3357.9"><tspan x="1889">协助做好招聘与任用的具体事务性工作，包括</tspan><tspan x="1889" dy="14.75">发放招聘启事、搜集和汇总应聘资料、安排口</tspan><tspan x="1889" dy="14.75">试职员、跟踪落实口试职员的情况等；帮助建</tspan><tspan x="1889" dy="14.75">立积极的员工关系，调和员工与管理层的关系</tspan><tspan x="1889" dy="14.75">，协助组织员工的各类活动；另外，在部分领</tspan><tspan x="1889" dy="14.75">导的指导帮助下，对员工考勤制度、劳动合同</tspan><tspan x="1889" dy="14.75">管理办法等相干的人事制度进行了修改工作，</tspan><tspan x="1889" dy="14.75">使其更加人性化，公道化，符合了公司"以人</tspan><tspan x="1889" dy="14.75">为本"的人才理念。</tspan></text></g>
<g id="b5-4c"><text class="t" x="1889" y="3526.3"><tspan x="1889">对个人来说下一步重要应当在认真工作之余加</tspan><tspan x="1889" dy="14.75">强学习，不断进步本身专业素质，才能面对更</tspan><tspan x="1889" dy="14.75">大的挑战，也才不会被时代的潮流所淘汰。珍</tspan><tspan x="1889" dy="14.75">惜来之不容易的机会，扎扎实实做好每份工作</tspan><tspan x="1889" dy="14.75">。今后人力资源部的责任将更加沉重，人力资</tspan><tspan x="1889" dy="14.75">源部一定安排并实施好新的工作计划，用实际</tspan><tspan x="1889" dy="14.75">的工作业绩来讲话。</tspan></text></g>
</svg>
